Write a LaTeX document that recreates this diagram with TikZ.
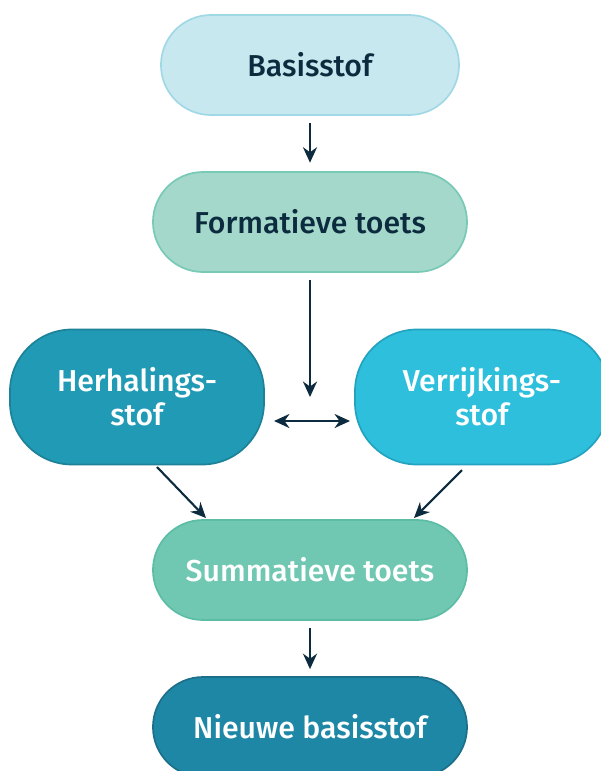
\documentclass[tikz,border=0pt]{standalone}
\usepackage{fontspec}
\setmainfont{Fira Sans}[BoldFont={Fira Sans Medium}]
\usepackage{tikz}
\usetikzlibrary{arrows.meta}

\definecolor{ink}{HTML}{0D2B3E}
\definecolor{basisfill}{HTML}{C8E8EF}
\definecolor{basisline}{HTML}{A0D8E6}
\definecolor{formfill}{HTML}{A3D8CB}
\definecolor{formline}{HTML}{78C9B5}
\definecolor{herhfill}{HTML}{219BB5}
\definecolor{herhline}{HTML}{1D8198}
\definecolor{verrfill}{HTML}{2EBFDC}
\definecolor{verrline}{HTML}{23A3C0}
\definecolor{sumfill}{HTML}{70C8B3}
\definecolor{sumline}{HTML}{5CBDA5}
\definecolor{nieuwfill}{HTML}{1F87A6}
\definecolor{nieuwline}{HTML}{1B6F88}

\tikzset{
  pill/.style={draw, line width=1.2pt, align=center, font=\bfseries\fontsize{21.5}{24}\selectfont,
    rounded corners=1.25cm, minimum width=7.45cm, minimum height=2.5cm, inner sep=0pt},
  bigpill/.style={pill, rounded corners=1.55cm, minimum width=6.35cm, minimum height=3.375cm},
  flow/.style={draw=ink, line width=1.5pt, -{Stealth[length=11pt,width=10pt]}},
  flowboth/.style={flow, {Stealth[length=11pt,width=10pt]}-{Stealth[length=11pt,width=10pt]}}
}

\begin{document}
\begin{tikzpicture}[x=0.025cm, y=-0.025cm]

\useasboundingbox ( 0, 0 ) rectangle ( 600, 771 );

% Blocks
\node[pill, fill=basisfill, draw=basisline, text=ink] (basis) at ( 310, 65 ) {Basisstof};
\node[pill, fill=formfill, draw=formline, text=ink, minimum width=7.85cm] (form) at ( 310, 222 ) {Formatieve toets};
\node[bigpill, fill=herhfill, draw=herhline, text=white] (herh) at ( 137, 397 ) {Herhalings-\\stof};
\node[bigpill, fill=verrfill, draw=verrline, text=white] (verr) at ( 482, 397 ) {Verrijkings-\\stof};
\node[pill, fill=sumfill, draw=sumline, text=white, minimum width=7.85cm] (sum) at ( 310, 570 ) {Summatieve toets};
\node[pill, fill=nieuwfill, draw=nieuwline, text=white, minimum width=7.85cm] (nieuw) at ( 310, 727 ) {Nieuwe basisstof};

% Helper points
\coordinate (split) at ( 310, 397 );
\coordinate (herhr) at ( 274, 421 );
\coordinate (verrl) at ( 350, 421 );

% Arrows
\draw[flow] ([yshift=-5pt]basis.south) -- ([yshift=6pt]form.north);
\draw[flow] ([yshift=-5pt]form.south) -- (split);
\draw[flowboth] (herhr) -- (verrl);
\draw[flow] ( 157, 467 ) -- ( 206, 518 );
\draw[flow] ( 462, 470 ) -- ( 414, 518 );
\draw[flow] ([yshift=-5pt]sum.south) -- ([yshift=5pt]nieuw.north);

\end{tikzpicture}
\end{document}
